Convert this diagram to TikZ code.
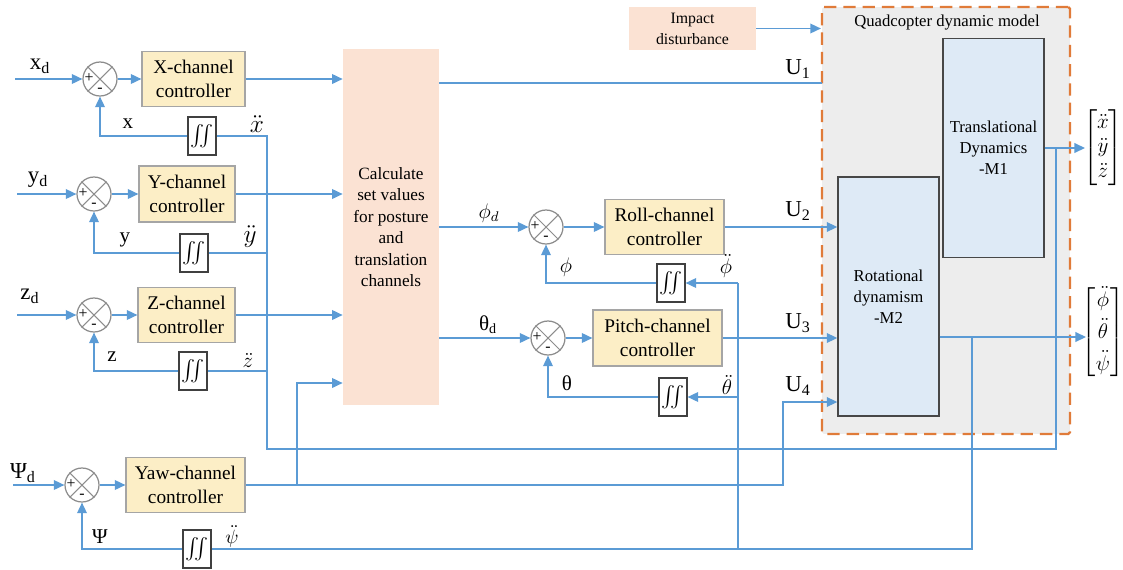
\documentclass[tikz,border=0pt]{standalone}
\usepackage{amsmath}
\usepackage{fontspec}
\setmainfont{Liberation Serif}
\usetikzlibrary{arrows.meta}

\definecolor{wireblue}{HTML}{5B9BD5}
\definecolor{ctrlfill}{HTML}{FCEEC6}
\definecolor{ctrledge}{HTML}{A5A5A5}
\definecolor{calcfill}{HTML}{FBE2D3}
\definecolor{modelfill}{HTML}{EDEDED}
\definecolor{modeledge}{HTML}{E07B39}
\definecolor{dynfill}{HTML}{DEEAF6}
\definecolor{dynedge}{HTML}{474747}

% double integrator symbol
\newcommand{\dblint}{$\int\mkern-7.5mu\int$}

\tikzset{
  wire/.style={draw=wireblue, line width=0.8pt},
  arr/.style={wire, -{Triangle[length=6pt,width=5.5pt]}},
  ctrl/.style={draw=ctrledge, fill=ctrlfill, line width=0.7pt, align=center,
    inner sep=0pt, font=\fontsize{11}{13.5}\selectfont},
  calcbox/.style={fill=calcfill, align=center, inner sep=0pt},
  summer/.style={circle, draw=black!45, fill=white, line width=0.7pt,
    minimum size=0.68cm, inner sep=0pt},
  intg/.style={draw=black!75, fill=white, line width=0.7pt, inner sep=0pt,
    minimum width=0.56cm, minimum height=0.76cm, font=\fontsize{13}{15}\selectfont},
  dyn/.style={draw=dynedge, fill=dynfill, line width=0.8pt, align=center,
    inner sep=0pt, font=\fontsize{9.5}{12}\selectfont},
  lbl/.style={inner sep=0pt, font=\fontsize{12}{14}\selectfont},
  sig/.style={inner sep=0pt, font=\fontsize{13}{15}\selectfont},
  sgn/.style={inner sep=0pt, font=\fontsize{9}{9}\selectfont},
}

\begin{document}
\begin{tikzpicture}[x=0.02cm, y=-0.02cm]
\useasboundingbox (0,0) rectangle (1123,569);

% ---- quadcopter model container ----
\node[draw=modeledge, fill=modelfill, line width=1.3pt, dash pattern=on 7pt off 4pt,
      rounded corners=1pt, minimum width=4.96cm, minimum height=8.54cm, inner sep=0pt]
      (model) at (946,220.5) {};
\node[inner sep=0pt, font=\fontsize{9.5}{11}\selectfont] (mtitle) at (947,23) {Quadcopter dynamic model};
\node[dyn, minimum width=2.02cm, minimum height=4.38cm] (tr) at (993.5,148) {Translational\\Dynamics\\-M1};
\node[dyn, minimum width=2.02cm, minimum height=4.78cm] (rot) at (888.5,296.5) {Rotational\\dynamism\\-M2};

% ---- translation channels ----
\node[summer] (sx) at (100,79) {};
\node[ctrl, minimum width=2.06cm, minimum height=1.10cm] (bx) at (193.5,79) {X-channel\\controller};
\node[intg] (ix) at (202,136) {\dblint};

\node[summer] (sy) at (94,194) {};
\node[ctrl, minimum width=1.92cm, minimum height=1.12cm] (by) at (187,194) {Y-channel\\controller};
\node[intg] (iy) at (194,253) {\dblint};

\node[summer] (sz) at (94,315) {};
\node[ctrl, minimum width=1.94cm, minimum height=1.10cm] (bz) at (186.5,315) {Z-channel\\controller};
\node[intg] (iz) at (193,371) {\dblint};

\node[summer] (sw) at (82,485) {};
\node[ctrl, minimum width=2.38cm, minimum height=1.10cm] (bw) at (185.5,485) {Yaw-channel\\controller};
\node[intg] (iw) at (197,549) {\dblint};

% ---- set-value block and disturbance ----
\node[calcbox, minimum width=1.92cm, minimum height=7.12cm, font=\fontsize{9.8}{12.2}\selectfont]
      (calc) at (391,227) {Calculate\\set values\\for posture\\and\\translation\\channels};
\node[calcbox, minimum width=2.54cm, minimum height=0.86cm, font=\fontsize{9}{12}\selectfont]
      (imp) at (692.5,28.5) {Impact\\disturbance};

% ---- attitude channels ----
\node[summer] (sr) at (546,227) {};
\node[ctrl, minimum width=2.38cm, minimum height=1.10cm] (br) at (664.5,227) {Roll-channel\\controller};
\node[intg] (ir) at (671,283) {\dblint};

\node[summer] (sp) at (548,338) {};
\node[ctrl, minimum width=2.58cm, minimum height=1.12cm] (bp) at (657.5,338) {Pitch-channel\\controller};
\node[intg] (ip) at (673,397) {\dblint};

% ---- output vectors ----
\node[inner sep=0pt, font=\fontsize{12}{14}\selectfont] (m1) at (1103,148)
  {$\begin{bmatrix}\ddot{x}\\ \ddot{y}\\ \ddot{z}\end{bmatrix}$};
\node[inner sep=0pt, font=\fontsize{12}{14}\selectfont] (m2) at (1103,332)
  {\renewcommand{\arraystretch}{1.3}$\begin{bmatrix}\ddot{\phi}\\ \ddot{\theta}\\ \ddot{\psi}\end{bmatrix}$};

% ---- summing junction marks ----
\foreach \s in {sx,sy,sz,sw,sr,sp}{
  \draw[black!45, line width=0.6pt] (\s.north east) -- (\s.south west)
                                    (\s.north west) -- (\s.south east);
  \node[sgn] at ([shift={(-11,-1)}]\s.center) {+};
  \node[sgn] at ([shift={(0,11)}]\s.center) {-};
}

% ---- free wire ends ----
\coordinate (xd) at (15,79);
\coordinate (yd) at (17,194);
\coordinate (zd) at (17,315);
\coordinate (wd) at (13,485);
\coordinate (busT) at (1056,148);
\coordinate (busB) at (1056,449);
\coordinate (busL) at (267,449);
\coordinate (busX) at (267,136);
\coordinate (m1in) at (1085,148);
\coordinate (rotO) at (972,337);
\coordinate (rotB) at (972,549);
\coordinate (m2in) at (1086,337);
\coordinate (angB) at (738,549);
\coordinate (angT) at (738,283);
\coordinate (u1) at (822,83);
\coordinate (u4) at (783,402);
\coordinate (yawUp) at (297,383);

% ---- translation channel wiring ----
\draw[arr] (xd) -- (sx);
\draw[arr] (sx) -- (bx);
\draw[arr] (bx) -- (calc.west |- bx.east);
\draw[arr] (ix) -| (sx.south);

\draw[arr] (yd) -- (sy);
\draw[arr] (sy) -- (by);
\draw[arr] (by) -- (calc.west |- by.east);
\draw[arr] (iy) -| (sy.south);

\draw[arr] (zd) -- (sz);
\draw[arr] (sz) -- (bz);
\draw[arr] (bz) -- (calc.west |- bz.east);
\draw[arr] (iz) -| (sz.south);

% acceleration feedback bus
\draw[arr] (tr.east |- m1in) -- (m1in);
\draw[wire] (busT) -- (busB) -- (busL) -- (busX) -- (ix);
\draw[wire] (busL |- iy) -- (iy);
\draw[wire] (busL |- iz) -- (iz);

% ---- yaw channel wiring ----
\draw[arr] (wd) -- (sw);
\draw[arr] (sw) -- (bw);
\draw[arr] (bw) -- (u4 |- bw.east) -- (u4) -- (rot.west |- u4);
\draw[arr] (yawUp |- bw.east) -- (yawUp) -- (calc.west |- yawUp);

% angular acceleration feedback
\draw[arr] (rot.east |- rotO) -- (m2in);
\draw[wire] (rotO) -- (rotB) -- (iw);
\draw[arr] (iw) -| (sw.south);
\draw[wire] (angB) -- (angT);
\draw[arr] (angT) -- (ir);
\draw[arr] (angB |- ip) -- (ip);
\draw[arr] (ir) -| (sr.south);
\draw[arr] (ip) -| (sp.south);

% ---- set-value outputs ----
\draw[wire] (calc.east |- u1) -- (u1);
\draw[arr] (calc.east |- sr) -- (sr);
\draw[arr] (sr) -- (br);
\draw[arr] (br) -- (rot.west |- br.east);
\draw[arr] (calc.east |- sp) -- (sp);
\draw[arr] (sp) -- (bp);
\draw[arr] (bp) -- (rot.west |- bp.east);
\draw[arr] (imp) -- (model.west |- imp.east);

% ---- signal labels ----
\node[sig] (lxd) at (40,66) {x\textsubscript{d}};
\node[sig] (lyd) at (38,180) {y\textsubscript{d}};
\node[sig] (lzd) at (30,296) {z\textsubscript{d}};
\node[sig] (lwd) at (23,473) {Ψ\textsubscript{d}};
\node[lbl] (lx) at (128,124) {x};
\node[lbl] (ly) at (125,240) {y};
\node[lbl] (lz) at (112,357) {z};
\node[lbl] (lw) at (100,537) {Ψ};
\node[inner sep=0pt, font=\fontsize{15}{17}\selectfont] (lxdd) at (257,124) {$\ddot{x}$};
\node[inner sep=0pt, font=\fontsize{15}{17}\selectfont] (lydd) at (250,237) {$\ddot{y}$};
\node[inner sep=0pt, font=\fontsize{13}{15}\selectfont] (lzdd) at (248,360) {$\ddot{z}$};
\node[inner sep=0pt, font=\fontsize{11}{13}\selectfont] (lwdd) at (232,536) {$\ddot{\psi}$};
\node[lbl] (lphd) at (489,213) {$\phi_d$};
\node[lbl] (lthd) at (488,325) {θ\textsubscript{d}};
\node[lbl] (lph) at (566,267) {$\phi$};
\node[lbl] (lth) at (567,383) {θ};
\node[lbl] (lphdd) at (726,266) {$\ddot{\phi}$};
\node[lbl] (lthdd) at (727,385) {$\ddot{\theta}$};
\node[sig] (lu1) at (798,69) {U\textsubscript{1}};
\node[sig] (lu2) at (798,211) {U\textsubscript{2}};
\node[sig] (lu3) at (798,323) {U\textsubscript{3}};
\node[sig] (lu4) at (798,386) {U\textsubscript{4}};
\end{tikzpicture}
\end{document}
